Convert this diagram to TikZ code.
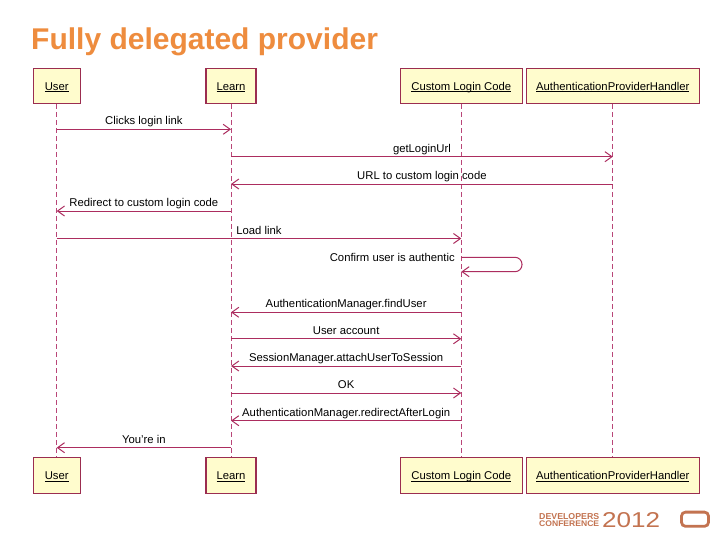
\documentclass[tikz,border=0pt]{standalone}
\usepackage{fontspec}
\setmainfont{Liberation Sans}
\usetikzlibrary{arrows.meta}
\definecolor{boxfill}{RGB}{255,252,205}
\definecolor{boxline}{RGB}{155,45,80}
\definecolor{msgline}{RGB}{172,45,95}
\definecolor{lifecol}{RGB}{185,70,120}
\definecolor{titleorange}{RGB}{238,140,62}
\definecolor{logobrown}{RGB}{195,115,80}
\newcommand{\ulname}[1]{\underline{\smash{#1}}}
\begin{document}
\begin{tikzpicture}[x=1pt,y=-1pt,
  actor/.style={draw=boxline, line width=1.1pt, fill=boxfill, minimum height=35.5pt,
    inner sep=0pt, text height=8pt, text depth=0pt, font=\fontsize{11.3}{13}\selectfont},
  lifestyle/.style={draw=lifecol, line width=0.9pt, dash pattern=on 5pt off 3pt},
  msg/.style={draw=msgline, line width=1pt, -{Straight Barb[length=7pt,width=10pt,line width=1pt]}},
  lbl/.style={font=\fontsize{11.3}{13}\selectfont, inner sep=0pt, anchor=base, yshift=4.5pt, pos=0.5}
]
\useasboundingbox[fill=white] (0,0) rectangle (728,546);

\node[anchor=base west, inner sep=0pt, text=titleorange,
  font=\fontsize{30}{36}\selectfont\bfseries] (title) at (31,49.5) {Fully delegated provider};

% top boxes
\node[actor, minimum width=47pt]    (uT) at (56.7,86) {\ulname{User}};
\node[actor, minimum width=50pt]    (lT) at (231,86) {\ulname{Learn}};
\node[actor, minimum width=122pt]   (cT) at (461.3,86) {\ulname{Custom Login Code}};
\node[actor, minimum width=173.3pt] (aT) at (612.8,86) {\ulname{AuthenticationProviderHandler}};
% bottom boxes
\node[actor, minimum width=47pt]    (uB) at (56.7,475.3) {\ulname{User}};
\node[actor, minimum width=50pt]    (lB) at (231,475.3) {\ulname{Learn}};
\node[actor, minimum width=122pt]   (cB) at (461.3,475.3) {\ulname{Custom Login Code}};
\node[actor, minimum width=173.3pt] (aB) at (612.8,475.3) {\ulname{AuthenticationProviderHandler}};

% lifelines
\draw[lifestyle] (uT.south) -- (uB.north);
\draw[lifestyle] (lT.south) -- (lB.north);
\draw[lifestyle] (cT.south) -- (cB.north);
\draw[lifestyle] (aT.south) -- (aB.north);

% messages
\draw[msg] (uT.south |- 0,129.3) -- (lT.south |- 0,129.3) node[lbl] {Clicks login link};
\draw[msg] (lT.south |- 0,156.7) -- (aT.south |- 0,156.7) node[lbl] {getLoginUrl};
\draw[msg] (aT.south |- 0,184) -- (lT.south |- 0,184) node[lbl] {URL to custom login code};
\draw[msg] (lT.south |- 0,211) -- (uT.south |- 0,211) node[lbl] {Redirect to custom login code};
\draw[msg] (uT.south |- 0,238.5) -- (cT.south |- 0,238.5) node[lbl] {Load link};
\coordinate (loopA) at (522,257.3);
\coordinate (loopB) at (522,271.7);
\draw[msg, rounded corners=7pt] (cT.south |- loopA) -- (loopA) -- (loopB) -- (cT.south |- loopB);
\node[font=\fontsize{11.3}{13}\selectfont, inner sep=0pt, anchor=base east] (loopLbl) at (455,261.5) {Confirm user is authentic};
\draw[msg] (cT.south |- 0,312.3) -- (lT.south |- 0,312.3) node[lbl] {AuthenticationManager.findUser};
\draw[msg] (lT.south |- 0,338.8) -- (cT.south |- 0,338.8) node[lbl] {User account};
\draw[msg] (cT.south |- 0,366) -- (lT.south |- 0,366) node[lbl] {SessionManager.attachUserToSession};
\draw[msg] (lT.south |- 0,393) -- (cT.south |- 0,393) node[lbl] {OK};
\draw[msg] (cT.south |- 0,420.7) -- (lT.south |- 0,420.7) node[lbl] {AuthenticationManager.redirectAfterLogin};
\draw[msg] (lT.south |- 0,447.7) -- (uT.south |- 0,447.7) node[lbl] {You're in};

% logo
\node[anchor=base west, inner sep=0pt, text=logobrown] (dev) at (539,519)
  {\resizebox{60pt}{6pt}{\bfseries DEVELOPERS}};
\node[anchor=base west, inner sep=0pt, text=logobrown] (conf) at (539,526)
  {\resizebox{60pt}{5.7pt}{\bfseries CONFERENCE}};
\node[anchor=base west, inner sep=0pt, text=logobrown] (year) at (602,527)
  {\resizebox{58pt}{15pt}{\fontsize{20}{20}\selectfont 2012}};
\node[draw=logobrown, line width=2.8pt, rounded corners=4pt, minimum width=27pt,
  minimum height=14.2pt, inner sep=0pt] (logobox) at (695,519.2) {};
\end{tikzpicture}
\end{document}
